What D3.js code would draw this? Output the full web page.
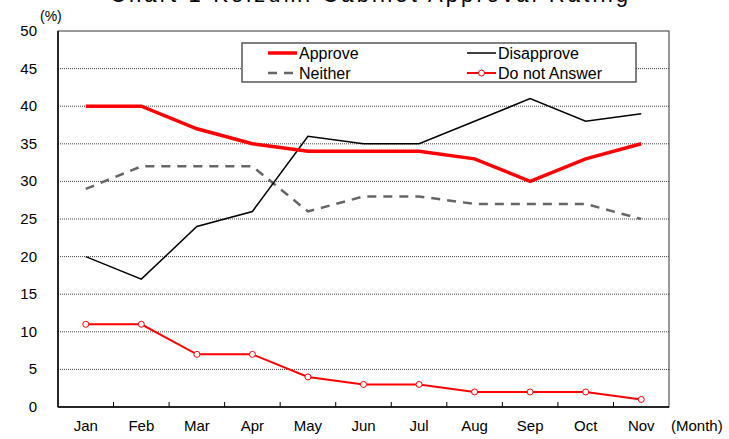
<!DOCTYPE html>
<html>
<head>
<meta charset="utf-8">
<script src="https://cdn.jsdelivr.net/npm/d3@7"></script>
<style>
  body { margin: 0; background: #fff; }
  svg { display: block; font-family: "Liberation Sans", Arial, sans-serif; }
</style>
</head>
<body>
<div id="chart"></div>
<script>
const months = ["Jan", "Feb", "Mar", "Apr", "May", "Jun", "Jul", "Aug", "Sep", "Oct", "Nov"];
const approve = [40, 40, 37, 35, 34, 34, 34, 33, 30, 33, 35];
const disapprove = [20, 17, 24, 26, 36, 35, 35, 38, 41, 38, 39];
const neither = [29, 32, 32, 32, 26, 28, 28, 27, 27, 27, 25];
const noAnswer = [11, 11, 7, 7, 4, 3, 3, 2, 2, 2, 1];
const yTicks = [0, 5, 10, 15, 20, 25, 30, 35, 40, 45, 50];

const width = 729, height = 439;
const margin = {top: 31, right: 60, bottom: 32, left: 58};

const svg = d3.select("#chart").append("svg")
  .attr("width", width).attr("height", height);

const x = d3.scaleBand().domain(months)
  .range([margin.left, width - margin.right]);
const y = d3.scaleLinear().domain([0, 50])
  .range([height - margin.bottom, margin.top]);

// title (mostly clipped off the top, as in the original)
svg.append("text")
  .attr("x", 110).attr("y", 2)
  .attr("textLength", 518).attr("lengthAdjust", "spacing")
  .style("font-size", "22px")
  .text("Chart 1  Koizumi Cabinet Approval Rating");

// gridlines
svg.append("g").selectAll("line")
  .data(yTicks.filter(d => d > 0 && d < 50)).enter().append("line")
  .attr("x1", margin.left).attr("x2", width - margin.right)
  .attr("y1", d => y(d)).attr("y2", d => y(d))
  .attr("stroke", "#444").attr("stroke-width", 1)
  .attr("stroke-dasharray", "1,1");

// frame
svg.append("rect")
  .attr("x", margin.left).attr("y", margin.top)
  .attr("width", width - margin.right - margin.left)
  .attr("height", y(0) - y(50))
  .attr("fill", "none").attr("stroke", "#333").attr("stroke-width", 1);
svg.append("line")
  .attr("x1", margin.left).attr("x2", margin.left)
  .attr("y1", margin.top).attr("y2", y(0))
  .attr("stroke", "#000").attr("stroke-width", 1.5);
svg.append("line")
  .attr("x1", margin.left).attr("x2", width - margin.right)
  .attr("y1", y(0)).attr("y2", y(0))
  .attr("stroke", "#000").attr("stroke-width", 1.5);

// x ticks between months, pointing up
svg.append("g").selectAll("line")
  .data(months.slice(1)).enter().append("line")
  .attr("x1", d => x(d)).attr("x2", d => x(d))
  .attr("y1", y(0)).attr("y2", y(0) - 5)
  .attr("stroke", "#000");

// y labels
svg.append("g").selectAll("text")
  .data(yTicks).enter().append("text")
  .attr("x", 37).attr("y", d => y(d) + 5)
  .attr("text-anchor", "end")
  .style("font-size", "15px")
  .text(d => d);

// x labels
svg.append("g").selectAll("text")
  .data(months).enter().append("text")
  .attr("x", d => x(d) + x.bandwidth() / 2).attr("y", 431)
  .attr("text-anchor", "middle")
  .style("font-size", "15px")
  .text(d => d);

svg.append("text").attr("x", 671).attr("y", 431)
  .style("font-size", "15px").text("(Month)");
svg.append("text").attr("x", 40).attr("y", 21)
  .style("font-size", "14px").text("(%)");

const cx = (d, i) => x(months[i]) + x.bandwidth() / 2;
const line = d3.line().x(cx).y(d => y(d));

svg.append("path").datum(neither)
  .attr("d", line).attr("fill", "none")
  .attr("stroke", "#666").attr("stroke-width", 2.5)
  .attr("stroke-dasharray", "9,7");
svg.append("path").datum(disapprove)
  .attr("d", line).attr("fill", "none")
  .attr("stroke", "#000").attr("stroke-width", 1.5);
svg.append("path").datum(approve)
  .attr("d", line).attr("fill", "none")
  .attr("stroke", "#ff0000").attr("stroke-width", 3.5);
svg.append("path").datum(noAnswer)
  .attr("d", line).attr("fill", "none")
  .attr("stroke", "#ff0000").attr("stroke-width", 2);
svg.append("g").selectAll("circle")
  .data(noAnswer).enter().append("circle")
  .attr("cx", cx).attr("cy", d => y(d)).attr("r", 3)
  .attr("fill", "#fff").attr("stroke", "#ff0000").attr("stroke-width", 1);

// legend
const legend = svg.append("g");
legend.append("rect")
  .attr("x", 242).attr("y", 43).attr("width", 394).attr("height", 39)
  .attr("fill", "#fff").attr("stroke", "#555").attr("stroke-width", 1.5);

const items = [
  {name: "Approve", col: 0, row: 0, color: "#ff0000", w: 3.5, dash: null, dot: false},
  {name: "Disapprove", col: 1, row: 0, color: "#000", w: 1.5, dash: null, dot: false},
  {name: "Neither", col: 0, row: 1, color: "#666", w: 2.5, dash: "9,7", dot: false},
  {name: "Do not Answer", col: 1, row: 1, color: "#ff0000", w: 2, dash: null, dot: true}
];
items.forEach(it => {
  const lx = it.col ? 467 : 268;
  const ly = it.row ? 73 : 53;
  legend.append("line")
    .attr("x1", lx).attr("x2", lx + 29).attr("y1", ly).attr("y2", ly)
    .attr("stroke", it.color).attr("stroke-width", it.w)
    .attr("stroke-dasharray", it.dash);
  if (it.dot) {
    legend.append("circle").attr("cx", lx + 14.5).attr("cy", ly).attr("r", 3)
      .attr("fill", "#fff").attr("stroke", it.color);
  }
  legend.append("text")
    .attr("x", lx + 31).attr("y", ly + 5.5)
    .style("font-size", "16px")
    .text(it.name);
});
</script>
</body>
</html>
